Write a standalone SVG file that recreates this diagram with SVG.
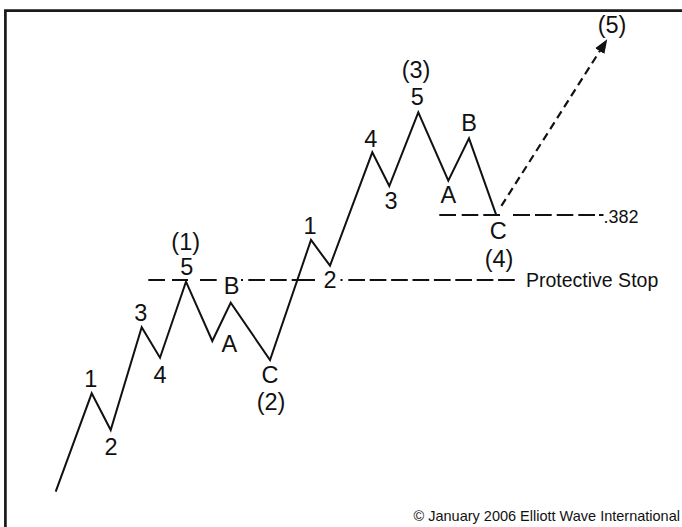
<svg xmlns="http://www.w3.org/2000/svg" width="682" height="527" viewBox="0 0 682 527">
  <defs>
    <style>
      .frame { fill: none; stroke: #1a1a1a; stroke-width: 2.7; }
      .wave { fill: none; stroke: #111; stroke-width: 2; stroke-linejoin: miter; stroke-linecap: butt; }
      .guide { fill: none; stroke: #111; stroke-width: 2.2; }
      .proj { fill: none; stroke: #111; stroke-width: 2.2; stroke-dasharray: 8 5; }
      .lbl { font-family: "Liberation Sans", Arial, Helvetica, sans-serif; font-size: 23.5px; fill: #111; text-anchor: middle; }
      .note { font-family: "Liberation Sans", Arial, Helvetica, sans-serif; fill: #111; }
    </style>
    <marker id="head" markerUnits="userSpaceOnUse" markerWidth="14" markerHeight="11" refX="2" refY="5.5" orient="auto">
      <path d="M0,0 L14,5.5 L0,11 Z" fill="#111"/>
    </marker>
  </defs>

  <rect width="682" height="527" fill="#fff"/>
  <path id="frame" class="frame" d="M5.4 527 V10.7 H682"/>

  <g id="connectors">
    <polyline id="wave" class="wave" points="55.7,491.7 91.7,393.3 110.7,430 141.7,327.3 160,357.7 186,281.7 212.3,341 230.7,302.7 270,360 311,240 330,265.7 372.3,152.3 389.3,186 418.3,112.3 448.3,180.7 469,138.3 496,214.3"/>
    <path id="protective-stop-line" class="guide" d="M148.3 280 H165 M172 280 H188 M200 280 H216.7 M241 280 H243 M248.3 280 H265 M270 280 H286.7 M291.7 280 H315 M340.5 280 H342.5 M348.3 280 H365 M369.7 280 H386.4 M391.1 280 H407.8 M412.5 280 H429.2 M433.9 280 H450.6 M455.3 280 H472 M476.7 280 H493.4 M498.1 280 H514.8"/>
    <path id="retracement-line" class="guide" d="M439.3 215 H456 M461.7 215 H478.3 M483.3 215 H500 M513 215 H530 M535 215 H551.7 M556.7 215 H573.3 M578.3 215 H595 M599 215 H603.5"/>
    <path id="wave5-projection" class="proj" d="M501.4 205.9 L600.8 49.4" marker-end="url(#head)"/>
  </g>

  <g id="wave-1-labels">
    <text class="lbl" x="90.7" y="386.7">1</text>
    <text class="lbl" x="111" y="454.5">2</text>
    <text class="lbl" x="140.7" y="320.7">3</text>
    <text class="lbl" x="160" y="382.7">4</text>
    <text class="lbl" x="186.7" y="275">5</text>
    <text class="lbl" x="185.7" y="250">(1)</text>
  </g>
  <g id="wave-2-labels">
    <text class="lbl" x="229.3" y="351.7">A</text>
    <text class="lbl" x="231.7" y="294">B</text>
    <text class="lbl" x="270" y="383.3">C</text>
    <text class="lbl" x="271" y="410">(2)</text>
  </g>
  <g id="wave-3-labels">
    <text class="lbl" x="310" y="234">1</text>
    <text class="lbl" x="330" y="287.7">2</text>
    <text class="lbl" x="391" y="209.3">3</text>
    <text class="lbl" x="370.7" y="146.7">4</text>
    <text class="lbl" x="417.3" y="105">5</text>
    <text class="lbl" x="416" y="78.3">(3)</text>
  </g>
  <g id="wave-4-labels">
    <text class="lbl" x="448.3" y="203.3">A</text>
    <text class="lbl" x="469" y="131">B</text>
    <text class="lbl" x="498.3" y="239.3">C</text>
    <text class="lbl" x="499" y="266.7">(4)</text>
  </g>
  <g id="wave-5-label">
    <text class="lbl" x="612" y="32.7">(5)</text>
  </g>
  <g id="guide-labels">
    <text class="note" x="603.5" y="222.7" font-size="18">.382</text>
    <text class="note" x="526" y="287.3" font-size="19.5">Protective Stop</text>
  </g>
  <g id="copyright">
    <text class="note" x="413.5" y="521" font-size="14.5">© January 2006 Elliott Wave International</text>
  </g>
</svg>
